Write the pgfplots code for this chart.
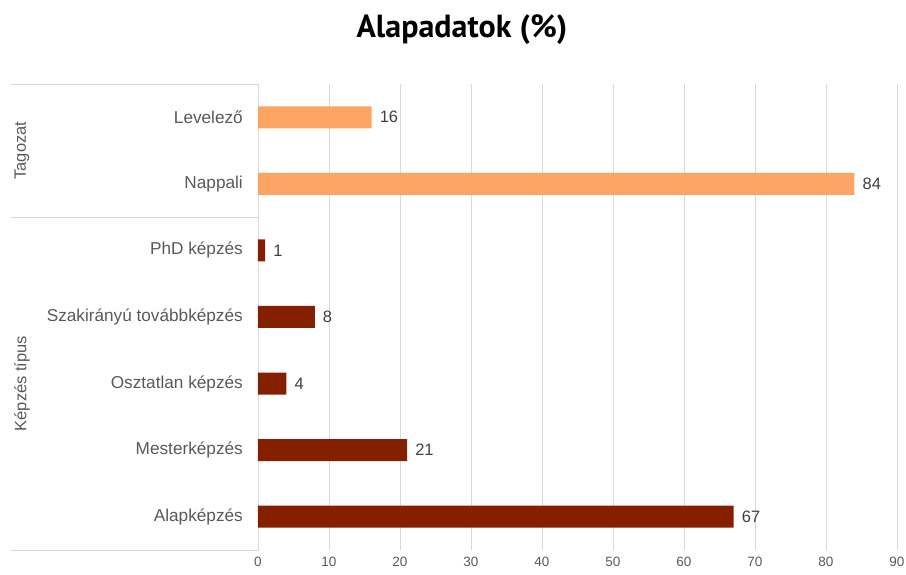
\documentclass[border=0pt]{standalone}
\usepackage{pgfplots}
\pgfplotsset{compat=1.18}
\usepackage{fontspec}
\setmainfont{Liberation Sans}
\newfontfamily\titlefont{PT Sans}

\definecolor{tagozat}{HTML}{FBA463}
\definecolor{kepzes}{HTML}{842000}
\definecolor{gridc}{HTML}{D9D9D9}
\definecolor{labc}{HTML}{595959}

\begin{document}
\begin{tikzpicture}
  % keep the page at the reference size (1pt = 1px)
  \path (-258pt,-25pt) rectangle (648pt,550pt);
  \begin{axis}[
      at={(0,0)}, anchor=south west,
      scale only axis,
      width=639pt, height=466pt,
      xmin=0, xmax=90,
      ymin=-0.5, ymax=6.5,
      xbar, bar width=22pt, bar shift=0pt,
      xtick={0,10,...,90},
      ytick={0,...,6},
      yticklabels={Alapképzés, Mesterképzés, Osztatlan képzés,
        Szakirányú továbbképzés, PhD képzés, Nappali, Levelező},
      major tick length=0pt,
      xmajorgrids,
      major grid style={gridc, line width=0.8pt},
      axis x line*=bottom, axis y line*=left,
      x axis line style={draw=none},
      y axis line style={gridc, line width=0.8pt},
      tick label style={text=labc},
      /pgf/number format/assume math mode=true,
      xticklabel style={font=\fontsize{13.5}{16}\selectfont, inner sep=0pt, yshift=-7pt},
      yticklabel style={font=\fontsize{17.2}{20}\selectfont, inner sep=0pt, xshift=-15pt},
      nodes near coords,
      every node near coord/.append style={font=\fontsize{16.5}{19}\selectfont,
        text=black!75, inner sep=0pt, xshift=8pt},
      clip=false,
    ]
    \addplot[draw=none, fill=tagozat] coordinates {(16,6) (84,5)};
    \addplot[draw=none, fill=kepzes] coordinates {(1,4) (8,3) (4,2) (21,1) (67,0)};

    \draw[gridc, line width=0.8pt] ([xshift=-247pt]axis cs:0,6.5) -- (axis cs:0,6.5);
    \draw[gridc, line width=0.8pt] ([xshift=-247pt]axis cs:0,4.5) -- (axis cs:0,4.5);
    \draw[gridc, line width=0.8pt] ([xshift=-247pt]axis cs:0,-0.5) -- (axis cs:0,-0.5);
    \node[rotate=90, text=labc, font=\fontsize{16.5}{19}\selectfont]
      at ([xshift=-236pt]axis cs:0,5.5) {Tagozat};
    \node[rotate=90, text=labc, font=\fontsize{16.5}{19}\selectfont]
      at ([xshift=-236pt]axis cs:0,2) {Képzés típus};
  \end{axis}
  \node[font=\titlefont\bfseries\fontsize{32}{36}\selectfont] at (204pt,520pt) {Alapadatok (\%)};
\end{tikzpicture}
\end{document}
